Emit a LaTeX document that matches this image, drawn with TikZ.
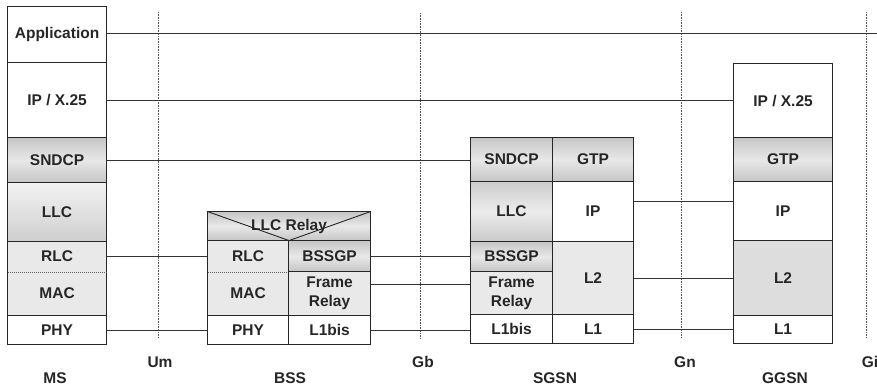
\documentclass[tikz,border=0pt]{standalone}
\usepackage{fontspec}
\setmainfont{Liberation Sans}
\begin{document}
\begin{tikzpicture}[x=1pt,y=-1pt,
  lay/.style={draw=black!85, line width=1.1pt, inner sep=0pt, anchor=north west, align=center,
    font=\fontsize{15.5}{19}\selectfont\bfseries, text=black!85},
  bare/.style={draw=none},
  plain/.style={fill=white},
  dark/.style={top color=gray!45, bottom color=gray!45, middle color=gray!18},
  llcs/.style={top color=gray!10, bottom color=gray!38},
  llcsg/.style={top color=gray!40, bottom color=gray!42, middle color=gray!15},
  light/.style={fill=gray!17},
  mid/.style={fill=gray!27},
  border/.style={draw=black!85, line width=1.1pt},
  sep/.style={draw=black!60, line width=0.8pt, dash pattern=on 1pt off 1pt},
  link/.style={draw=black!80, line width=0.8pt},
  iface/.style={draw=black!65, line width=0.6pt, dash pattern=on 0.8pt off 0.8pt},
  lbl/.style={font=\fontsize{15.5}{18}\selectfont\bfseries, text=black!85}
]
\useasboundingbox (0,0) rectangle (877,386);

% interfaces
\coordinate (umtop) at (158,12);  \coordinate (umbot) at (158,338);
\coordinate (gbtop) at (420,13);  \coordinate (gbbot) at (420,338);
\coordinate (gntop) at (681,12);  \coordinate (gnbot) at (681,338);
\coordinate (gitop) at (866,12);  \coordinate (gibot) at (866,338);
\draw[iface] (umtop) -- (umbot);
\draw[iface] (gbtop) -- (gbbot);
\draw[iface] (gntop) -- (gnbot);
\draw[iface] (gitop) -- (gibot);

% MS
\node[lay,plain,minimum width=99pt,minimum height=56pt] (msapp) at (7,6) {Application};
\node[lay,plain,minimum width=99pt,minimum height=75pt] (msip) at (7,62) {IP / X.25};
\node[lay,dark,minimum width=99pt,minimum height=45pt] (mssndcp) at (7,137) {SNDCP};
\node[lay,llcs,minimum width=99pt,minimum height=59pt] (msllc) at (7,182) {LLC};
\node[lay,light,bare,minimum width=99pt,minimum height=30pt] (msrlc) at (7,241) {RLC};
\node[lay,light,bare,minimum width=99pt,minimum height=44pt] (msmac) at (7,271) {MAC};
\draw[border] ([shift={(0.55,0.55)}]msrlc.north west) rectangle ([shift={(-0.55,-0.55)}]msmac.south east);
\draw[sep] ([xshift=0.55pt]msrlc.south west) -- ([xshift=-0.55pt]msrlc.south east);
\node[lay,plain,minimum width=99pt,minimum height=29pt] (msphy) at (7,315) {PHY};

% BSS
\node[lay,dark,minimum width=163pt,minimum height=29pt] (relay) at (207,211) {LLC Relay};
\draw[border,line width=0.9pt] ([shift={(0.55,0.55)}]relay.north west) -- ([yshift=0.55pt]relay.south) -- ([shift={(-0.55,0.55)}]relay.north east);
\node[lay,light,bare,minimum width=81pt,minimum height=31pt] (bssrlc) at (207,240) {RLC};
\node[lay,light,bare,minimum width=81pt,minimum height=44pt] (bssmac) at (207,271) {MAC};
\draw[border] ([shift={(0.55,0.55)}]bssrlc.north west) rectangle ([shift={(-0.55,-0.55)}]bssmac.south east);
\draw[sep] ([xshift=0.55pt]bssrlc.south west) -- ([xshift=-0.55pt]bssrlc.south east);
\node[lay,plain,minimum width=81pt,minimum height=29pt] (bssphy) at (207,315) {PHY};
\node[lay,dark,minimum width=82pt,minimum height=31pt] (bssbssgp) at (288,240) {BSSGP};
\node[lay,light,minimum width=82pt,minimum height=44pt] (bssfr) at (288,271) {Frame\\Relay};
\node[lay,plain,minimum width=82pt,minimum height=29pt] (bssl1) at (288,315) {L1bis};

% SGSN
\node[lay,dark,minimum width=82pt,minimum height=44pt] (sgsndcp) at (470,137) {SNDCP};
\node[lay,dark,minimum width=81pt,minimum height=44pt] (sggtp) at (552,137) {GTP};
\node[lay,llcsg,minimum width=82pt,minimum height=60pt] (sgllc) at (470,181) {LLC};
\node[lay,plain,minimum width=81pt,minimum height=60pt] (sgip) at (552,181) {IP};
\node[lay,dark,minimum width=82pt,minimum height=30pt] (sgbssgp) at (470,241) {BSSGP};
\node[lay,light,minimum width=82pt,minimum height=43pt] (sgfr) at (470,271) {Frame\\Relay};
\node[lay,light,minimum width=81pt,minimum height=73pt] (sgl2) at (552,241) {L2};
\node[lay,plain,minimum width=82pt,minimum height=29pt] (sgl1bis) at (470,314) {L1bis};
\node[lay,plain,minimum width=81pt,minimum height=29pt] (sgl1) at (552,314) {L1};

% GGSN
\node[lay,plain,minimum width=99pt,minimum height=74pt] (ggip25) at (733,63) {IP / X.25};
\node[lay,dark,minimum width=99pt,minimum height=44pt] (gggtp) at (733,137) {GTP};
\node[lay,plain,minimum width=99pt,minimum height=59pt] (ggip) at (733,181) {IP};
\node[lay,mid,minimum width=99pt,minimum height=75pt] (ggl2) at (733,240) {L2};
\node[lay,plain,minimum width=99pt,minimum height=28pt] (ggl1) at (733,315) {L1};

% peer links
\coordinate (yapp) at (0,33);
\coordinate (yfr) at (0,284);
\coordinate (yip) at (0,201);
\coordinate (append) at (877,33);
\draw[link] (msapp.east |- yapp) -- (append);
\draw[link] (msip.east) -- (msip.east -| ggip25.west);
\draw[link] (mssndcp.east) -- (mssndcp.east -| sgsndcp.west);
\draw[link] (msrlc.east) -- (msrlc.east -| bssrlc.west);
\draw[link] (msphy.east) -- (msphy.east -| bssphy.west);
\draw[link] (bssbssgp.east) -- (bssbssgp.east -| sgbssgp.west);
\draw[link] (bssfr.east |- yfr) -- (sgfr.west |- yfr);
\draw[link] (bssl1.east) -- (bssl1.east -| sgl1bis.west);
\draw[link] (sgip.east |- yip) -- (ggip.west |- yip);
\draw[link] (sgl2.east) -- (sgl2.east -| ggl2.west);
\draw[link] (sgl1.east) -- (sgl1.east -| ggl1.west);

% labels
\node[lbl] (um) at (160,362) {Um};
\node[lbl] (gb) at (423,362) {Gb};
\node[lbl] (gn) at (685,362) {Gn};
\node[lbl] (gi) at (870,362) {Gi};
\node[lbl] (ms) at (55,378) {MS};
\node[lbl] (bss) at (290,378) {BSS};
\node[lbl] (sgsn) at (555,378) {SGSN};
\node[lbl] (ggsn) at (785,378) {GGSN};
\end{tikzpicture}
\end{document}
